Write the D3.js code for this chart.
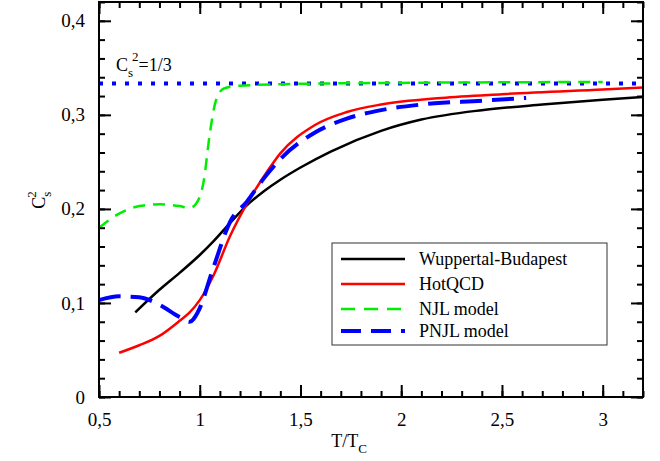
<!DOCTYPE html>
<html>
<head>
<meta charset="utf-8">
<script src="https://cdn.jsdelivr.net/npm/d3@7"></script>
<style>body{margin:0;background:#fff}</style>
</head>
<body>
<script>
var wbX = [0.68,0.8,0.9,1.0,1.07,1.15,1.235,1.32,1.4,1.5,1.65,1.9,2.1,2.4,2.7,3.0,3.2];
var wbY = [0.09,0.114,0.132,0.151,0.166,0.185,0.204,0.219,0.231,0.244,0.261,0.283,0.295,0.305,0.311,0.316,0.319];
var hqX = [0.6,0.7,0.8,0.9,0.95,1.0,1.07,1.15,1.235,1.32,1.4,1.57,1.73,1.9,2.2,2.5,3.0,3.2];
var hqY = [0.047,0.055,0.065,0.081,0.09,0.103,0.13,0.171,0.206,0.235,0.259,0.289,0.303,0.311,0.318,0.322,0.327,0.329];
var njlX = [0.5,0.6,0.7,0.8,0.9,0.95,0.98,1.02,1.05,1.08,1.12,1.2,1.5,2.0,3.0];
var njlY = [0.18,0.195,0.203,0.205,0.203,0.201,0.205,0.23,0.28,0.315,0.328,0.331,0.333,0.334,0.335];
var pnjlX = [0.5,0.6,0.7,0.8,0.9,0.95,0.99,1.07,1.15,1.235,1.32,1.4,1.57,1.73,1.9,2.1,2.4,2.62];
var pnjlY = [0.103,0.107,0.106,0.098,0.085,0.08,0.09,0.139,0.186,0.208,0.233,0.253,0.281,0.296,0.305,0.311,0.315,0.318];
var xTicks = [0.5,1,1.5,2,2.5,3];
var yTicks = [0,0.1,0.2,0.3,0.4];
var names = ["Wuppertal-Budapest","HotQCD","NJL model","PNJL model"];

var W = 660, H = 461, L = 99, R = 643, T = 2, B = 397;
var FONT = "'Liberation Serif', 'Times New Roman', 'DejaVu Serif', serif";
var svg = d3.select("body").append("svg").attr("width", W).attr("height", H)
  .style("font-family", FONT);
var x = d3.scaleLinear().domain([0.5,3.2]).range([L,R]);
var y = d3.scaleLinear().domain([0,0.42]).range([B,T]);
var fmt = function(d){ return String(d).replace(".", ","); };

var series = [
  {x: wbX, y: wbY, c: "#000", w: 2.5, dash: null},
  {x: hqX, y: hqY, c: "#f00", w: 2.5, dash: null},
  {x: njlX, y: njlY, c: "#0e0", w: 2.5, dash: "12,8"},
  {x: pnjlX, y: pnjlY, c: "#00f", w: 4, dash: "22,10"}
];
var line = d3.line().curve(d3.curveMonotoneX);
svg.append("line").attr("x1", L).attr("x2", R).attr("y1", y(1/3)).attr("y2", y(1/3))
  .attr("stroke", "#00f").attr("stroke-width", 4).attr("stroke-dasharray", "4,9");
series.forEach(function(s){
  svg.append("path").attr("d", line(s.x.map(function(v,i){ return [x(v), y(s.y[i])]; })))
    .attr("fill","none").attr("stroke", s.c).attr("stroke-width", s.w)
    .attr("stroke-dasharray", s.dash);
});

// axes, ticks inward on all sides
function ax(gen, tr, major, minor){
  var g = svg.append("g").attr("transform", tr);
  g.call(gen.tickValues(minor).tickSize(-6).tickFormat(""));
  var g2 = svg.append("g").attr("transform", tr);
  g2.call(gen.tickValues(major).tickSize(-12).tickFormat(fmt).tickPadding(16));
  [g, g2].forEach(function(q){
    q.attr("font-family", null);
    q.select(".domain").remove();
    q.selectAll("line").attr("stroke","#000").attr("stroke-width",2);
  });
  return g2;
}
var xMinor = d3.range(5, 33).map(function(d){ return d/10; });
var yMinor = d3.range(0, 22).map(function(d){ return d/50; });
var gb = ax(d3.axisBottom(x), "translate(0," + B + ")", xTicks, xMinor);
gb.attr("font-size", null).selectAll("text").attr("font-size", 19).attr("fill","#000");
var gt = ax(d3.axisTop(x), "translate(0," + T + ")", xTicks, xMinor);
gt.selectAll("text").remove();
var gl = ax(d3.axisLeft(y), "translate(" + L + ",0)", yTicks, yMinor);
gl.attr("font-size", null).selectAll("text").attr("font-size", 19).attr("fill","#000").attr("dx", 2);
var gr = ax(d3.axisRight(y), "translate(" + R + ",0)", yTicks, yMinor);
gr.selectAll("text").remove();
svg.append("rect").attr("x", L).attr("y", T).attr("width", R-L).attr("height", B-T)
  .attr("fill","none").attr("stroke","#000").attr("stroke-width",2);

// labels
var xl = svg.append("text").attr("x", 349).attr("y", 447).attr("font-size", 18).attr("text-anchor","middle");
xl.append("tspan").text("T/T");
xl.append("tspan").attr("font-size", 13).attr("dy", 6).text("C");
var yl = svg.append("text").attr("transform","translate(45,200) rotate(-90)").attr("font-size", 18).attr("text-anchor","middle");
yl.append("tspan").text("C");
yl.append("tspan").attr("font-size", 13).attr("dy", 6).text("s");
yl.append("tspan").attr("font-size", 13).attr("dy", -15).attr("dx", -6).text("2");
var cl = svg.append("text").attr("x", 116).attr("y", 71).attr("font-size", 18);
cl.append("tspan").text("C");
cl.append("tspan").attr("font-size", 13).attr("dy", 6).text("s");
cl.append("tspan").attr("font-size", 13).attr("dy", -16).attr("dx", -1).text("2");
cl.append("tspan").attr("dy", 10).text("=1/3");

// legend
svg.append("rect").attr("x", 332).attr("y", 243).attr("width", 275).attr("height", 102)
  .attr("fill","#fff").attr("stroke","#333").attr("stroke-width",1);
names.forEach(function(n, i){
  var yy = [259, 284, 309, 331][i], s = series[i];
  svg.append("line").attr("x1", 341).attr("x2", 405).attr("y1", yy).attr("y2", yy)
    .attr("stroke", s.c).attr("stroke-width", s.w).attr("stroke-dasharray", i==2 ? "14,9" : (i==3 ? "20,10" : null));
  svg.append("text").attr("x", 419).attr("y", yy + 6).attr("font-size", 18).text(n);
});
</script>
</body>
</html>
